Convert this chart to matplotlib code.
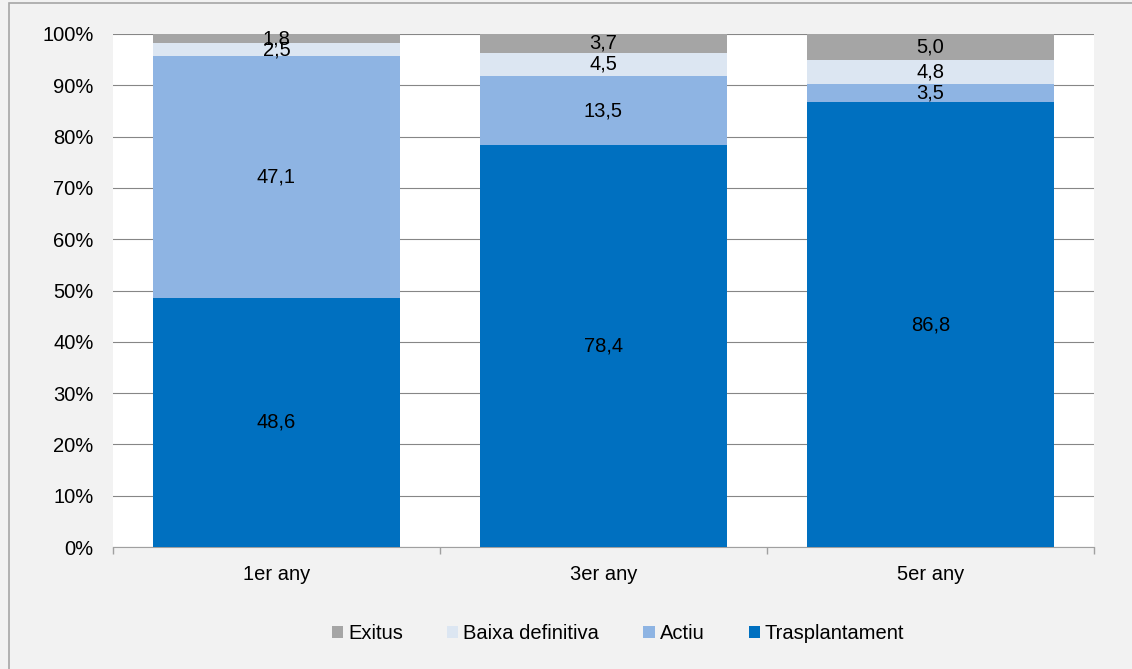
import numpy as np
import matplotlib.pyplot as plt
from matplotlib.patches import Rectangle

plt.rcParams['font.family'] = ['Liberation Sans', 'DejaVu Sans']

categories = ['1er any', '3er any', '5er any']
trasplantament = [48.6, 78.4, 86.8]
actiu = [47.1, 13.5, 3.5]
baixa = [2.5, 4.5, 4.8]
exitus = [1.8, 3.7, 5.0]

series = [('Trasplantament', trasplantament, '#0070C0'),
          ('Actiu', actiu, '#8EB4E3'),
          ('Baixa definitiva', baixa, '#DCE6F2'),
          ('Exitus', exitus, '#A5A5A5')]

totals = np.sum([s[1] for s in series], axis=0)
fs = 14.5

fig = plt.figure(figsize=(11.32, 6.69), dpi=100, facecolor='#F2F2F2')
ax = fig.add_axes([0.0998, 0.1823, 0.8666, 0.7669])
ax.set_facecolor('white')

x = np.arange(len(categories))
bottom = np.zeros(len(categories))
handles = []
for name, vals, color in series:
    pct = np.array(vals) / totals * 100
    b = ax.bar(x, pct, 0.755, bottom=bottom, color=color, label=name, zorder=3)
    handles.append(b)
    for xi, bi, pi, v in zip(x, bottom, pct, vals):
        ax.text(xi, bi + pi / 2, f'{v:.1f}'.replace('.', ','), ha='center', va='center',
                fontsize=fs, color='black', zorder=4)
    bottom += pct

ax.set_xlim(-0.5, 2.5)
ax.set_ylim(0, 100)
ax.set_yticks(np.arange(0, 101, 10))
ax.set_yticklabels([f'{v}%' for v in range(0, 101, 10)], fontsize=fs)
ax.yaxis.grid(True, color='#868686', linewidth=0.8, zorder=0)
ax.tick_params(axis='y', length=0, pad=14)

ax.set_xticks(x)
ax.set_xticklabels(categories, fontsize=fs)
ax.tick_params(axis='x', length=0, pad=13)
ax.set_xticks([-0.5, 0.5, 1.5, 2.5], minor=True)
ax.tick_params(axis='x', which='minor', length=5, color='#A0A0A0', width=1)

for s in ['top', 'right', 'left']:
    ax.spines[s].set_visible(False)
ax.spines['bottom'].set_color('#A0A0A0')

leg = fig.legend(handles[::-1], [s[0] for s in series][::-1], loc='center',
                 bbox_to_anchor=(0.546, 0.053), ncol=4, frameon=False, fontsize=fs,
                 handlelength=0.55, handleheight=0.55, handletextpad=0.25, columnspacing=2.2)

fig.patches.append(Rectangle((9 / 1132, -0.01), 1.1, 1 - 3 / 669 + 0.01,
                             transform=fig.transFigure, fill=False,
                             edgecolor='#A6A6A6', linewidth=1.2, zorder=-1))

fig.savefig('out.png', dpi=100, facecolor=fig.get_facecolor())
